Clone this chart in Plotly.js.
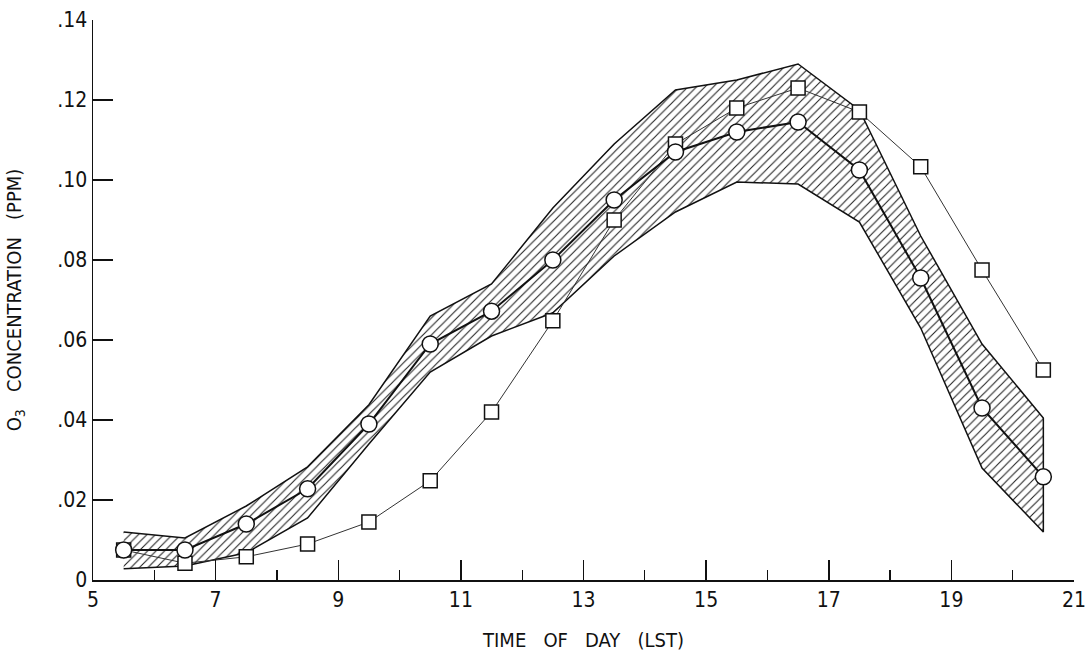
<!DOCTYPE html>
<html>
<head>
<meta charset="utf-8">
<script src="https://cdn.plot.ly/plotly-3.0.1.min.js"></script>
<style>
  html, body { margin: 0; padding: 0; background: #ffffff; }
  #chart { width: 1090px; height: 656px; }
</style>
</head>
<body>
<div id="chart"></div>
<script>
// Time of day (LST), hourly mid-points
const hours = [5.5, 6.5, 7.5, 8.5, 9.5, 10.5, 11.5, 12.5, 13.5, 14.5, 15.5, 16.5, 17.5, 18.5, 19.5, 20.5];
// Mean O3 (circles)
const meanO3 = [0.0075, 0.0075, 0.014, 0.0228, 0.039, 0.059, 0.0672, 0.080, 0.095, 0.107, 0.112, 0.1145, 0.1025, 0.0755, 0.043, 0.0258];
// Second series (squares)
const squareO3 = [0.0075, 0.0042, 0.0058, 0.009, 0.0145, 0.0248, 0.042, 0.0648, 0.090, 0.109, 0.118, 0.123, 0.117, 0.1033, 0.0775, 0.0525];
// Hatched band: upper and lower bounds
const bandUpper = [0.012, 0.0105, 0.0185, 0.0283, 0.0438, 0.066, 0.074, 0.093, 0.109, 0.1225, 0.125, 0.129, 0.1175, 0.086, 0.059, 0.0405];
const bandLower = [0.0028, 0.0035, 0.0068, 0.0155, 0.034, 0.052, 0.061, 0.0668, 0.081, 0.092, 0.0995, 0.099, 0.0895, 0.063, 0.028, 0.012];
// Tick labels
const xTickVals = [5, 7, 9, 11, 13, 15, 17, 19, 21];
const xTickText = ['5', '7', '9', '11', '13', '15', '17', '19', '21'];
const yTickVals = [0, 0.02, 0.04, 0.06, 0.08, 0.10, 0.12, 0.14];
const yTickText = ['0', '.02', '.04', '.06', '.08', '.10', '.12', '.14'];

const FONT = '"Liberation Sans Narrow", "DejaVu Sans Condensed", "Roboto Condensed", "Arial Narrow", "Liberation Sans", sans-serif';
const SP = '\u00A0\u00A0\u00A0';

const bandX = hours.concat(hours.slice().reverse());
const bandY = bandUpper.concat(bandLower.slice().reverse());

const traces = [
  {
    x: bandX, y: bandY,
    type: 'scatter', mode: 'lines',
    fill: 'toself',
    fillcolor: 'rgba(255,255,255,0)',
    fillpattern: { shape: '/', size: 6, solidity: 0.18, fgcolor: '#222222', bgcolor: '#ffffff' },
    line: { color: '#111111', width: 1.5 },
    hoverinfo: 'skip',
    showlegend: false
  },
  {
    x: hours, y: squareO3,
    type: 'scatter', mode: 'lines+markers',
    line: { color: '#333333', width: 1 },
    marker: { symbol: 'square', size: 14, color: '#ffffff', line: { color: '#111111', width: 1.5 } },
    showlegend: false
  },
  {
    x: hours, y: meanO3,
    type: 'scatter', mode: 'lines+markers',
    line: { color: '#111111', width: 2 },
    marker: { symbol: 'circle', size: 16, color: '#ffffff', line: { color: '#111111', width: 1.5 } },
    showlegend: false
  }
];

const layout = {
  width: 1090, height: 656,
  margin: { l: 93, r: 16, t: 20, b: 76 },
  paper_bgcolor: '#ffffff',
  plot_bgcolor: '#ffffff',
  font: { family: FONT, color: '#111111', size: 21 },
  xaxis: {
    range: [5, 21],
    showgrid: false, zeroline: false,
    showline: true, linecolor: '#111111', linewidth: 1.5,
    tickmode: 'array', tickvals: xTickVals, ticktext: xTickText,
    ticks: 'inside', ticklen: 20, tickwidth: 1.5, tickcolor: '#111111',
    minor: { dtick: 1, tick0: 5, ticks: 'inside', ticklen: 10, tickwidth: 1.2, tickcolor: '#111111', showgrid: false },
    tickfont: { family: FONT, size: 21, color: '#111111' },
    title: { text: 'TIME' + SP + 'OF' + SP + 'DAY' + SP + '(LST)', font: { family: FONT, size: 20, color: '#111111' }, standoff: 22 },
    automargin: false
  },
  yaxis: {
    range: [0, 0.14],
    showgrid: false, zeroline: false,
    showline: true, linecolor: '#111111', linewidth: 1.5,
    tickmode: 'array', tickvals: yTickVals, ticktext: yTickText,
    ticks: 'inside', ticklen: 20, tickwidth: 1.5, tickcolor: '#111111',
    tickfont: { family: FONT, size: 21, color: '#111111' },
    title: { text: 'O<sub>3</sub>' + SP + 'CONCENTRATION' + SP + '(PPM)', font: { family: FONT, size: 20, color: '#111111' }, standoff: 30 },
    automargin: false
  }
};

Plotly.newPlot('chart', traces, layout, { displayModeBar: false, staticPlot: true });
</script>
</body>
</html>
